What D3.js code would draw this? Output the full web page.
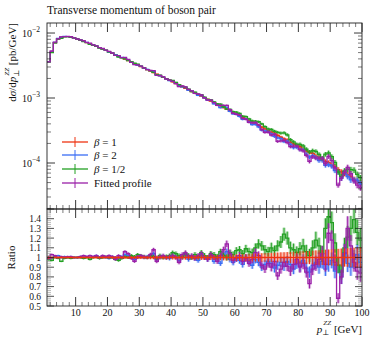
<!DOCTYPE html>
<html><head><meta charset="utf-8">
<script src="https://cdn.jsdelivr.net/npm/d3@7"></script>
<style>
html,body{margin:0;padding:0;background:#fff;}
text{font-family:"Liberation Serif","DejaVu Serif",serif;fill:#111;}
</style></head>
<body>
<svg id="c" width="374" height="337"></svg>
<script>
// ---- data ----
const binLow = d3.range(1, 100); // bin lower edges (1 GeV bins from 1 to 100)
const beta1 = [
3.63e-3,5.13e-3,7.08e-3,8.13e-3,8.61e-3,8.81e-3,8.81e-3,8.67e-3,8.41e-3,8.09e-3,
7.76e-3,7.45e-3,7.13e-3,6.82e-3,6.52e-3,6.22e-3,5.94e-3,5.66e-3,5.40e-3,5.13e-3,
4.88e-3,4.63e-3,4.40e-3,4.18e-3,3.96e-3,3.76e-3,3.57e-3,3.39e-3,3.21e-3,3.04e-3,
2.88e-3,2.74e-3,2.59e-3,2.45e-3,2.32e-3,2.20e-3,2.08e-3,1.97e-3,1.87e-3,1.77e-3,
1.67e-3,1.58e-3,1.49e-3,1.41e-3,1.34e-3,1.26e-3,1.19e-3,1.13e-3,1.07e-3,1.01e-3,
9.51e-4,9.00e-4,8.49e-4,8.02e-4,7.57e-4,7.15e-4,6.75e-4,6.37e-4,6.01e-4,5.68e-4,
5.36e-4,5.06e-4,4.76e-4,4.50e-4,4.25e-4,4.00e-4,3.78e-4,3.56e-4,3.36e-4,3.16e-4,
2.98e-4,2.88e-4,2.65e-4,2.49e-4,2.35e-4,2.26e-4,2.08e-4,1.96e-4,1.85e-4,1.78e-4,
1.64e-4,1.54e-4,1.45e-4,1.41e-4,1.28e-4,1.21e-4,1.14e-4,1.05e-4,1.01e-4,9.20e-5,
8.90e-5,7.90e-5,7.30e-5,6.90e-5,6.60e-5,6.10e-5,5.60e-5,5.30e-5,5.00e-5];
const ratioBeta2 = [
1.00,0.99,1.01,1.02,1.00,1.01,1.00,1.01,1.00,1.00,
1.01,1.00,1.01,1.00,1.01,1.02,1.00,1.01,1.00,0.99,
1.01,1.00,0.99,1.01,1.03,1.02,1.00,0.98,1.00,1.01,
1.00,1.01,1.02,1.04,0.98,1.00,1.01,1.00,0.99,1.02,
1.01,0.97,1.00,1.03,0.98,1.01,0.99,0.97,1.02,1.00,
0.98,1.02,0.96,0.99,0.94,1.03,1.06,0.98,0.95,0.99,
0.97,0.93,1.00,0.96,0.92,0.98,0.95,0.90,0.93,0.96,
0.94,0.89,0.92,0.95,0.91,0.96,0.93,0.88,0.94,0.91,
0.97,0.89,0.85,0.92,0.95,0.90,0.96,0.88,0.93,0.97,
0.86,0.92,0.80,1.05,0.94,0.90,0.98,1.03,0.95];
const ratioBetaHalf = [
0.98,0.97,1.00,0.99,0.96,0.99,1.00,0.99,1.00,1.00,
1.00,0.99,1.00,0.98,1.00,1.01,0.99,1.00,1.01,1.00,
1.00,0.98,0.97,0.99,1.01,1.00,1.02,1.01,1.03,1.02,
1.01,1.00,1.02,1.01,0.99,1.02,1.00,1.01,1.02,1.05,
1.04,1.02,1.01,1.04,1.02,1.00,1.03,1.01,1.05,1.02,
1.00,1.04,1.03,1.01,1.06,1.02,1.00,1.05,1.03,1.07,
1.08,1.04,1.09,1.06,1.05,1.10,1.14,1.12,1.08,1.06,
1.10,1.07,1.12,1.16,1.24,1.20,1.10,1.08,1.05,1.09,
1.12,1.06,1.02,1.10,1.18,1.12,1.04,1.30,1.42,1.36,
1.15,0.92,0.85,1.10,1.21,1.30,1.39,1.26,1.18];
const ratioFitted = [
0.99,1.03,1.02,1.00,1.01,1.00,1.01,1.01,1.00,1.00,
1.01,1.02,1.01,1.02,1.01,1.02,1.00,1.02,1.01,1.02,
1.01,0.98,1.02,1.00,1.06,1.04,0.99,0.96,1.01,1.02,
1.01,1.00,1.03,1.08,0.96,1.01,1.02,1.00,1.01,1.02,
1.00,0.95,1.03,1.05,1.01,1.02,0.99,1.02,1.04,1.00,
0.98,1.03,1.00,0.96,1.02,1.08,1.14,1.04,0.97,0.99,
1.02,0.96,0.99,0.94,0.98,1.05,1.02,0.92,0.88,0.94,
0.90,0.96,0.81,0.88,0.95,0.91,0.86,0.93,0.98,0.90,
0.94,0.85,0.73,0.88,0.93,0.98,1.04,0.93,1.25,1.18,
0.95,0.58,0.80,1.04,1.30,1.12,0.95,0.86,0.84];
const relErr = [
0.012,0.010,0.008,0.008,0.008,0.008,0.008,0.008,0.008,0.008,
0.009,0.009,0.009,0.010,0.010,0.010,0.011,0.011,0.011,0.012,
0.012,0.013,0.013,0.013,0.014,0.014,0.015,0.015,0.016,0.016,
0.017,0.017,0.018,0.018,0.019,0.019,0.019,0.020,0.020,0.020,
0.021,0.021,0.022,0.022,0.023,0.023,0.024,0.024,0.025,0.025,
0.025,0.026,0.026,0.027,0.028,0.029,0.030,0.031,0.032,0.034,
0.035,0.036,0.037,0.038,0.040,0.041,0.042,0.044,0.045,0.047,
0.048,0.050,0.051,0.053,0.054,0.056,0.058,0.059,0.061,0.063,
0.065,0.067,0.068,0.070,0.073,0.075,0.077,0.080,0.082,0.084,
0.086,0.089,0.092,0.094,0.096,0.099,0.101,0.104,0.107];
const seriesNames = ["β = 1", "β = 2", "β = 1/2", "Fitted profile"];
const seriesColors = ["#ee3311", "#3a6cf4", "#23a023", "#9a20a8"];
const xTicks = [10,20,30,40,50,60,70,80,90,100];
const yDecades = [-4,-3,-2];
const ratioTicks = [0.5,0.6,0.7,0.8,0.9,1,1.1,1.2,1.3,1.4];

// ---- layout ----
const L = 47, R = 362, T = 23, MB = 209, RB = 306;
const svg = d3.select("#c");
const x = d3.scaleLinear().domain([1, 100]).range([L, R]);
const y = d3.scaleLog().domain([1.96e-5, 1.426e-2]).range([MB, T]);
const yr = d3.scaleLinear().domain([0.5, 1.5]).range([RB, MB]);

const ratios = [beta1.map(() => 1), ratioBeta2, ratioBetaHalf, ratioFitted];
const series = ratios.map((r, k) => binLow.map((b, i) => ({
  x0: b, x1: b + 1, r: r[i], v: beta1[i] * r[i], e: relErr[i]
})));

const defs = svg.append("defs");
defs.append("clipPath").attr("id", "cm").append("rect").attr("x", L).attr("y", T).attr("width", R - L).attr("height", MB - T);
defs.append("clipPath").attr("id", "cr").append("rect").attr("x", L).attr("y", MB).attr("width", R - L).attr("height", RB - MB);

function drawBands(g, data, color, yf, key) {
  g.append("g").selectAll("rect").data(data).join("rect")
    .attr("x", d => x(d.x0)).attr("width", d => x(d.x1) - x(d.x0))
    .attr("y", d => yf(key(d) * (1 + d.e)))
    .attr("height", d => Math.max(0.6, yf(key(d) * (1 - d.e)) - yf(key(d) * (1 + d.e))))
    .attr("fill", color).attr("opacity", 0.33);
}
function drawLines(g, data, color, yf, key) {
  g.append("g").selectAll("line").data(data).join("line")
    .attr("x1", d => x((d.x0 + d.x1) / 2)).attr("x2", d => x((d.x0 + d.x1) / 2))
    .attr("y1", d => yf(key(d) * (1 + d.e))).attr("y2", d => yf(key(d) * (1 - d.e)))
    .attr("stroke", color).attr("stroke-width", 1);
  const pts = data.map(d => [x(d.x0), yf(key(d))]);
  const last = data[data.length - 1];
  pts.push([x(last.x1), yf(key(last))]);
  g.append("path").attr("d", d3.line().curve(d3.curveStepAfter)(pts))
    .attr("fill", "none").attr("stroke", color).attr("stroke-width", 1.3);
}

// main panel
const gm = svg.append("g").attr("clip-path", "url(#cm)");
[0, 1, 2, 3].forEach(k => { drawBands(gm, series[k], seriesColors[k], y, d => d.v); drawLines(gm, series[k], seriesColors[k], y, d => d.v); });
// ratio panel (reference band first, its line last)
const gr = svg.append("g").attr("clip-path", "url(#cr)");
drawBands(gr, series[0], seriesColors[0], yr, d => d.r);
[1, 2, 3].forEach(k => { drawBands(gr, series[k], seriesColors[k], yr, d => d.r); drawLines(gr, series[k], seriesColors[k], yr, d => d.r); });
drawLines(gr, series[0], seriesColors[0], yr, d => d.r);

// ---- frames & ticks ----
const axisColor = "#222";
function frame(top, bottom) {
  svg.append("rect").attr("x", L).attr("y", top).attr("width", R - L).attr("height", bottom - top)
    .attr("fill", "none").attr("stroke", axisColor).attr("stroke-width", 0.9);
}
frame(T, MB); frame(MB, RB);

const tk = svg.append("g").attr("stroke", axisColor).attr("stroke-width", 0.8);
function xTickMarks(yy, dir) {
  for (let v = 2; v <= 100; v += 2) {
    const major = v % 10 === 0;
    const len = major ? 9 : 4;
    tk.append("line").attr("x1", x(v)).attr("x2", x(v)).attr("y1", yy).attr("y2", yy + dir * len)
      .attr("stroke-width", major ? 0.9 : 0.6);
  }
}
xTickMarks(T, 1); xTickMarks(MB, -1); xTickMarks(MB, 1); xTickMarks(RB, -1);

// log y ticks
[-5, -4, -3, -2].forEach(p => {
  for (let m = 1; m <= 9; m++) {
    const v = m * Math.pow(10, p);
    const yy = y(v);
    if (yy < T || yy > MB) continue;
    const len = m === 1 ? 8 : 4;
    [[L, 1], [R, -1]].forEach(([xx, dir]) => tk.append("line").attr("x1", xx).attr("x2", xx + dir * len)
      .attr("y1", yy).attr("y2", yy).attr("stroke-width", m === 1 ? 0.9 : 0.6));
  }
});

// ratio y ticks
for (let i = 0; i <= 50; i++) {
  const v = 0.5 + i * 0.02;
  const major = Math.abs((v * 10) - Math.round(v * 10)) < 1e-6;
  const yy = yr(v);
  [[L, 1], [R, -1]].forEach(([xx, dir]) => tk.append("line").attr("x1", xx).attr("x2", xx + dir * (major ? 7 : 4))
    .attr("y1", yy).attr("y2", yy).attr("stroke-width", major ? 0.8 : 0.5).attr("stroke", major ? axisColor : "#777"));
}

// ---- labels ----
svg.append("text").attr("x", 47).attr("y", 14).attr("font-size", 11.5).text("Transverse momentum of boson pair");

yDecades.forEach(p => {
  const t = svg.append("text").attr("x", 40).attr("y", y(Math.pow(10, p)) + 4).attr("text-anchor", "end").attr("font-size", 10);
  t.append("tspan").text("10");
  t.append("tspan").attr("dy", -5).attr("font-size", 7.5).text("−" + Math.abs(p));
});

ratioTicks.forEach(v => {
  svg.append("text").attr("x", 41).attr("y", yr(v) + 3.5).attr("text-anchor", "end").attr("font-size", 9.5)
    .text(v === 1 ? "1" : v.toFixed(1));
});

xTicks.forEach(v => {
  svg.append("text").attr("x", x(v)).attr("y", 316).attr("text-anchor", "middle").attr("font-size", 10).text(v);
});

// y label (main)
const yl = svg.append("text").attr("transform", "translate(16," + T + ") rotate(-90)").attr("text-anchor", "end").attr("font-size", 11);
yl.append("tspan").text("d");
yl.append("tspan").attr("font-style", "italic").text("σ");
yl.append("tspan").text("/d");
yl.append("tspan").attr("font-style", "italic").text("p");
yl.append("tspan").attr("dy", 3).attr("font-size", 7.5).text("⊥");
yl.append("tspan").attr("dy", -10).attr("dx", -6).attr("font-size", 7).attr("font-style", "italic").text("ZZ");
yl.append("tspan").attr("dy", 7).text(" [pb/GeV]");

svg.append("text").attr("transform", "translate(15," + yr(1) + ") rotate(-90)").attr("text-anchor", "middle").attr("font-size", 11).text("Ratio");

const xl = svg.append("text").attr("x", R).attr("y", 333).attr("text-anchor", "end").attr("font-size", 11);
xl.append("tspan").attr("font-style", "italic").text("p");
xl.append("tspan").attr("dy", 2).attr("font-size", 7.5).text("⊥");
xl.append("tspan").attr("dy", -10).attr("dx", -6).attr("font-size", 7).attr("font-style", "italic").text("ZZ");
xl.append("tspan").attr("dy", 8).text(" [GeV]");

// legend
const legY = [142, 155, 169, 183];
seriesNames.forEach((name, k) => {
  const g = svg.append("g");
  g.append("line").attr("x1", 62).attr("x2", 88).attr("y1", legY[k]).attr("y2", legY[k]).attr("stroke", seriesColors[k]).attr("stroke-width", 1.3);
  g.append("line").attr("x1", 75).attr("x2", 75).attr("y1", legY[k] - 5).attr("y2", legY[k] + 5).attr("stroke", seriesColors[k]).attr("stroke-width", 1);
  const t = g.append("text").attr("x", 94).attr("y", legY[k] + 4).attr("font-size", 11);
  if (k < 3) {
    t.append("tspan").attr("font-style", "italic").text("β");
    t.append("tspan").text(name.slice(1));
  } else t.text(name);
});
</script>
</body></html>
